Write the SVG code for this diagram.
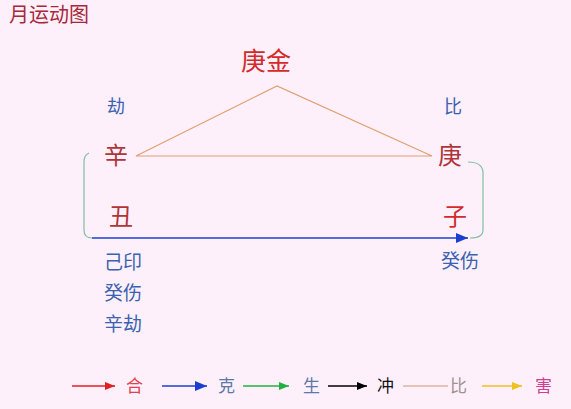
<svg xmlns="http://www.w3.org/2000/svg" width="571" height="409" viewBox="0 0 571 409">
<style>
text{font-family:"Noto Sans CJK SC","Noto Sans CJK JP",sans-serif;}
.t{font-size:20px;fill:#a8283a;}
.big{font-size:25px;fill:#d42a2a;}
.br{font-size:24px;fill:#b0343a;}
.bl{font-size:18px;fill:#3a62b0;}
.bl2{font-size:19px;fill:#3a62b0;}
.lg{font-size:17px;}
</style>
<defs>
<marker id="mr" markerWidth="10" markerHeight="8" refX="10" refY="4" orient="auto" markerUnits="userSpaceOnUse"><path d="M0,0L10,4L0,8z" fill="#e02020"/></marker>
<marker id="mb" markerWidth="12" markerHeight="10" refX="12" refY="5" orient="auto" markerUnits="userSpaceOnUse"><path d="M0,0L12,5L0,10z" fill="#1a3fd0"/></marker>
<marker id="mg" markerWidth="10" markerHeight="8" refX="10" refY="4" orient="auto" markerUnits="userSpaceOnUse"><path d="M0,0L10,4L0,8z" fill="#20b040"/></marker>
<marker id="mk" markerWidth="10" markerHeight="8" refX="10" refY="4" orient="auto" markerUnits="userSpaceOnUse"><path d="M0,0L10,4L0,8z" fill="#000"/></marker>
<marker id="my" markerWidth="10" markerHeight="8" refX="10" refY="4" orient="auto" markerUnits="userSpaceOnUse"><path d="M0,0L10,4L0,8z" fill="#f0c020"/></marker>
</defs>
<rect width="571" height="409" fill="#fdf0fa"/>
<text class="t" x="9" y="22">月运动图</text>
<g id="connectors">
<path d="M136,156L277,86L432,156Z" fill="none" stroke="#e0a070" stroke-width="1.2"/>
<path d="M89,153Q84,155 84,162L84,230Q84,238 92,238" fill="none" stroke="#80c0a0" stroke-width="1.2"/>
<path d="M468,162Q482,162 483,172L483,230Q483,238 470,238" fill="none" stroke="#80c0a0" stroke-width="1.2"/>
<line x1="92" y1="238" x2="468" y2="238" stroke="#1a3fd0" stroke-width="1.4" marker-end="url(#mb)"/>
</g>
<g id="n-gengjin"><text class="big" x="241" y="70">庚金</text></g>
<g id="n-jie"><text class="bl" x="107" y="113">劫</text></g>
<g id="n-bi"><text class="bl" x="444" y="113">比</text></g>
<g id="n-xin"><text class="br" x="104" y="164">辛</text></g>
<g id="n-geng"><text class="br" x="438" y="164">庚</text></g>
<g id="n-chou"><text class="br" x="109" y="225">丑</text></g>
<g id="n-zi"><text class="br" x="443" y="225" style="fill:#d42a2a">子</text></g>
<g id="n-hidden-left">
<text class="bl2" x="104" y="269">己印</text>
<text class="bl2" x="104" y="300">癸伤</text>
<text class="bl2" x="104" y="331">辛劫</text>
</g>
<g id="n-hidden-right"><text class="bl2" x="441" y="268">癸伤</text></g>
<g id="legend">
<line x1="72" y1="386" x2="115" y2="386" stroke="#e02020" stroke-width="1.5" marker-end="url(#mr)"/>
<text class="lg" x="126" y="392" fill="#e04050">合</text>
<line x1="162" y1="386" x2="207" y2="386" stroke="#1a3fd0" stroke-width="1.5" marker-end="url(#mb)"/>
<text class="lg" x="218" y="392" fill="#5a78a8">克</text>
<line x1="243" y1="386" x2="289" y2="386" stroke="#20b040" stroke-width="1.5" marker-end="url(#mg)"/>
<text class="lg" x="303" y="392" fill="#5a78a8">生</text>
<line x1="328" y1="386" x2="367" y2="386" stroke="#000" stroke-width="1.5" marker-end="url(#mk)"/>
<text class="lg" x="377" y="392" fill="#111">冲</text>
<line x1="403" y1="386" x2="448" y2="386" stroke="#c89878" stroke-width="1.2"/>
<text class="lg" x="450" y="392" fill="#a09090">比</text>
<line x1="482" y1="386" x2="522" y2="386" stroke="#f0c020" stroke-width="1.5" marker-end="url(#my)"/>
<text class="lg" x="535" y="392" fill="#d04090">害</text>
</g>
</svg>
